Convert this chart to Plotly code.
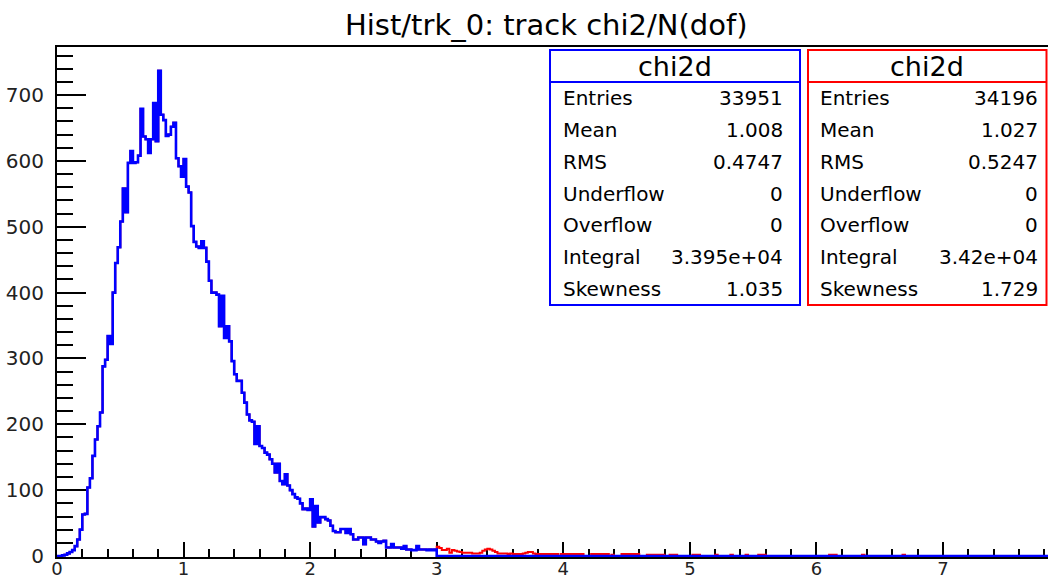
import numpy as np
import plotly.graph_objects as go

# ---------------- data ----------------
bin_width = 0.02
n_bins = 400  # histogram range 0 .. 8

# blue histogram (chi2/ndf < 3), bins of 0.02 from 0 to 3
blue_counts = [
    0, 0, 1, 2, 4, 6, 9, 15, 25, 40,
    63, 64, 104, 118, 152, 177, 197, 218, 288, 298,
    334, 322, 400, 445, 469, 508, 558, 522, 597, 615,
    597, 598, 608, 679, 637, 633, 612, 633, 688, 630,
    737, 670, 662, 638, 640, 652, 658, 604, 592, 576,
    603, 561, 552, 501, 477, 470, 468, 478, 468, 447,
    418, 400, 400, 397, 349, 395, 331, 349, 326, 296,
    276, 266, 266, 248, 233, 215, 206, 204, 170, 197,
    167, 164, 157, 154, 147, 140, 127, 140, 114, 109,
    124, 107, 100, 94, 89, 87, 80, 71, 72, 70,
    86, 45, 76, 51, 59, 59, 56, 54, 46, 38,
    36, 36, 41, 41, 35, 41, 33, 25, 25, 28,
    28, 18, 28, 28, 25, 25, 22, 20, 22, 23,
    13, 13, 18, 13, 13, 13, 11, 15, 10, 10,
    9, 9, 15, 10, 10, 10, 9, 10, 9, 10,
]

# red histogram: identical below 3 (hidden under blue), plus tail from 3.0 on
red_tail_counts = [
    14, 12, 9, 9, 11, 5, 9, 8, 7, 6,
    5, 5, 5, 5, 4, 4, 4, 5, 8, 10,
    11, 10, 8, 6, 4, 4, 4, 4, 3, 4,
    3, 3, 3, 3, 4, 5, 6, 6, 4, 3,
    3, 3, 3, 3, 3, 3, 3, 3, 0, 3,
    3, 3, 3, 3, 3, 3, 3, 3, 0, 0,
    0, 3, 3, 3, 3, 3, 3, 3, 0, 2,
    0, 0, 0, 3, 3, 3, 3, 3, 3, 3,
    0, 0, 0, 2, 2, 2, 2, 2, 2, 2,
    0, 0, 2, 2, 2, 0, 0, 0, 0, 0,
    0, 2, 2, 2, 0, 0, 0, 0, 0, 0,
    2, 0, 0, 0, 0, 0, 2, 0, 0, 0,
    0, 0, 2, 0, 0, 0, 0, 2, 2, 2,
    0, 0, 0, 0, 0, 0, 0, 0, 0, 0,
    0, 0, 0, 0, 0, 0, 0, 0, 0, 0,
    0, 0, 0, 0, 0, 2, 2, 2, 0, 0,
    0, 0, 0, 0, 0, 0, 0, 0, 2, 0,
    0, 0, 0, 0, 0, 0, 0, 0, 0, 0,
    0, 0, 0, 0, 2, 0, 0, 0, 0, 0,
    0, 0, 0, 0, 0, 0, 0, 0, 0, 0,
]

title_text = "Hist/trk_0: track chi2/N(dof)"
box_title = "chi2d"
stat_labels = ["Entries", "Mean", "RMS", "Underflow", "Overflow", "Integral", "Skewness"]
blue_stats = ["33951", "1.008", "0.4747", "0", "0", "3.395e+04", "1.035"]
red_stats = ["34196", "1.027", "0.5247", "0", "0", "3.42e+04", "1.729"]

x_tick_vals = [0, 1, 2, 3, 4, 5, 6, 7]
y_tick_vals = [0, 100, 200, 300, 400, 500, 600, 700]

# ---------------- build ----------------
edges = np.arange(n_bins + 1) * bin_width
blue = np.zeros(n_bins)
blue[:len(blue_counts)] = blue_counts
red = np.zeros(n_bins)
red[:len(blue_counts)] = blue_counts
red[len(blue_counts):len(blue_counts) + len(red_tail_counts)] = red_tail_counts


def step_xy(counts):
    xs = np.concatenate([[edges[0]], edges[:-1], [edges[-1]]])
    ys = np.concatenate([[0.0], counts, [counts[-1]]])
    return xs, ys


fig = go.Figure()
for counts, col, lw in ((red, "#ff0000", 2), (blue, "#0000ff", 2.6)):
    xs, ys = step_xy(counts)
    fig.add_trace(go.Scatter(x=xs, y=ys, mode="lines", line=dict(color=col, width=lw, shape="hv"),
                             hoverinfo="skip", showlegend=False))

W, H = 1048, 579
L, R, T, B = 57, 0, 47, 22
PW, PH = W - L - R, H - T - B


def px2x(px):
    return (px - L) / PW


def px2y(py):
    return (H - B - py) / PH


FONT = "DejaVu Sans"
shapes = []
annotations = []

annotations.append(dict(text=title_text, x=px2x(546), y=px2y(25), xref="paper", yref="paper",
                        xanchor="center", yanchor="middle", showarrow=False,
                        font=dict(family=FONT, size=29, color="black")))

boxes = [
    ("#0000ff", 550, 800, 561, 785, blue_stats),
    ("#ff0000", 808, 1046.5, 818, 1040, red_stats),
]
for col, bx0, bx1, lx, vx, vals in boxes:
    shapes.append(dict(type="rect", xref="paper", yref="paper", x0=px2x(bx0), x1=px2x(bx1),
                       y0=px2y(305), y1=px2y(50), line=dict(color=col, width=2), fillcolor="white",
                       layer="above"))
    shapes.append(dict(type="line", xref="paper", yref="paper", x0=px2x(bx0), x1=px2x(bx1),
                       y0=px2y(82), y1=px2y(82), line=dict(color=col, width=2), layer="above"))
    annotations.append(dict(text=box_title, x=px2x((bx0 + bx1) / 2), y=px2y(67), xref="paper", yref="paper",
                            xanchor="center", yanchor="middle", showarrow=False,
                            font=dict(family=FONT, size=27, color="black")))
    for k, (lab, val) in enumerate(zip(stat_labels, vals)):
        yy = px2y(98.5 + k * 31.67)
        annotations.append(dict(text=lab, x=px2x(lx), y=yy, xref="paper", yref="paper",
                                xanchor="left", yanchor="middle", showarrow=False,
                                font=dict(family=FONT, size=20, color="black")))
        annotations.append(dict(text=val, x=px2x(vx), y=yy, xref="paper", yref="paper",
                                xanchor="right", yanchor="middle", showarrow=False,
                                font=dict(family=FONT, size=20, color="black")))

fig.update_layout(
    width=W, height=H,
    margin=dict(l=L, r=R, t=T, b=B, pad=0, autoexpand=False),
    paper_bgcolor="white", plot_bgcolor="white",
    shapes=shapes, annotations=annotations,
    showlegend=False,
)
fig.update_xaxes(
    range=[0, (W - L) / 126.57], tickvals=x_tick_vals, ticktext=[str(v) for v in x_tick_vals],
    ticks="inside", ticklen=15, tickwidth=2, tickcolor="black",
    minor=dict(dtick=0.2, tick0=0, ticks="inside", ticklen=8, tickwidth=2, tickcolor="black", showgrid=False),
    showline=True, linecolor="black", linewidth=2, mirror=True,
    showgrid=False, zeroline=False, layer="below traces", automargin=False,
    tickfont=dict(family=FONT, size=18, color="#222"), ticklabelstandoff=-6,
)
fig.update_yaxes(
    range=[-1.5, 773], tickvals=y_tick_vals, ticktext=[str(v) for v in y_tick_vals],
    ticks="inside", ticklen=29, tickwidth=2, tickcolor="black",
    minor=dict(dtick=20, tick0=0, ticks="inside", ticklen=16, tickwidth=2, tickcolor="black", showgrid=False),
    showline=True, linecolor="black", linewidth=2, mirror=False,
    showgrid=False, zeroline=False, layer="below traces", automargin=False,
    tickfont=dict(family=FONT, size=20, color="#222"), ticklabelstandoff=7,
)

fig.write_html("out.html")
